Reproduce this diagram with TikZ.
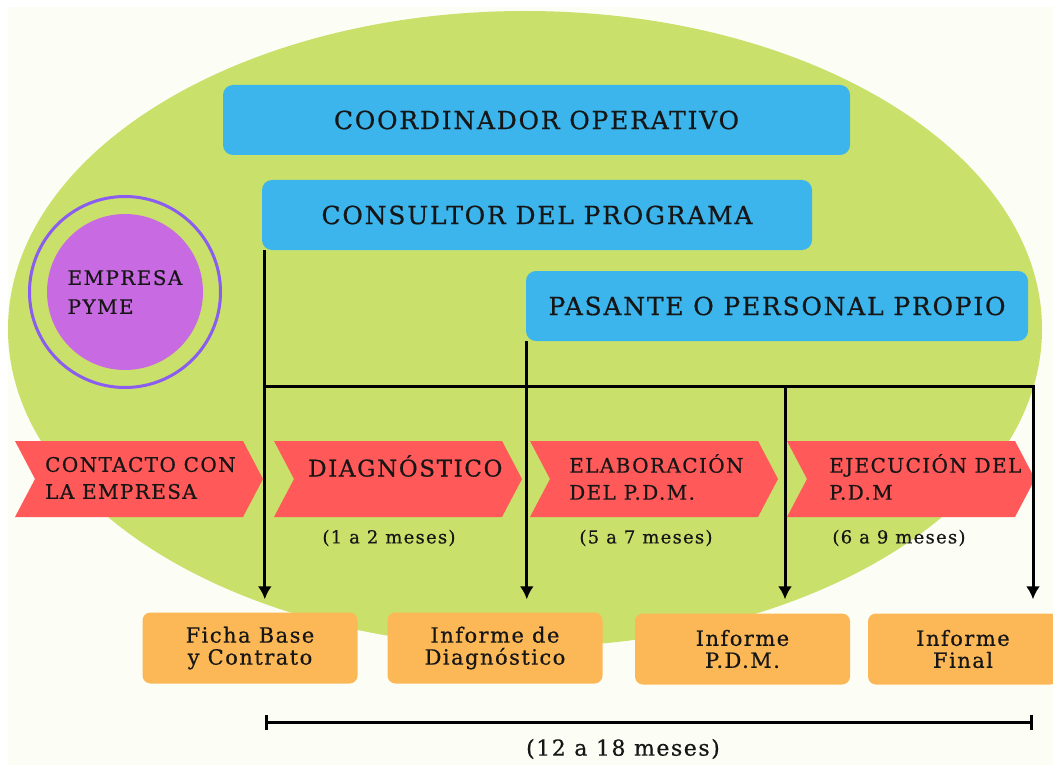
\documentclass[tikz,border=0pt]{standalone}
\usepackage{fontspec}
\setmainfont{DejaVu Serif}
\newfontfamily\slab[LetterSpace=7,FakeBold=0.6]{DejaVu Serif}
\usetikzlibrary{arrows.meta}

\definecolor{bgcream}{RGB}{252,253,244}
\definecolor{blobgreen}{RGB}{201,224,106}
\definecolor{roleblue}{RGB}{59,181,236}
\definecolor{stagered}{RGB}{255,89,89}
\definecolor{docorange}{RGB}{252,184,86}
\definecolor{pymefill}{RGB}{200,106,225}
\definecolor{pymering}{RGB}{139,92,240}
\definecolor{inkdark}{RGB}{22,22,22}

\begin{document}
\begin{tikzpicture}[x=1pt,y=-1pt,
    every node/.style={text=inkdark},
    rolebox/.style={fill=roleblue, rounded corners=10pt, minimum height=70pt, inner sep=0pt,
      font=\slab\fontsize{25}{30}\selectfont},
    stagetext/.style={anchor=west, align=left, inner sep=0pt,
      font=\slab\fontsize{20}{27}\selectfont},
    timetext/.style={inner sep=0pt, font=\slab\fontsize{18}{22}\selectfont},
    docbox/.style={fill=docorange, rounded corners=8pt, minimum width=215pt, minimum height=71pt,
      align=center, inner sep=0pt, font=\slab\fontsize{21}{22}\selectfont},
    wire/.style={line width=3pt},
    flow/.style={line width=3pt, -{Latex[length=13pt,width=14pt]}},
    span/.style={line width=3pt, {Bar[width=15pt,line width=3pt]}-{Bar[width=15pt,line width=3pt]}},
  ]
  \useasboundingbox (0,0) rectangle (1053,765);
  \fill[white] (0,0) rectangle (1053,765);
  \fill[bgcream] (8,7) rectangle (1053,765);

  % green blob
  \fill[blobgreen] (525,329) ellipse [x radius=517, y radius=318];

  % roles
  \node[rolebox, minimum width=627pt] (coord) at (536.5,120) {COORDINADOR OPERATIVO};
  \node[rolebox, minimum width=550pt] (cons) at (537,215) {CONSULTOR DEL PROGRAMA};
  \node[rolebox, minimum width=502pt] (pas) at (777,306) {PASANTE O PERSONAL PROPIO};

  % empresa
  \node[circle, draw=pymering, line width=3pt, minimum size=191pt] (ring) at (125,292) {};
  \node[circle, fill=pymefill, minimum size=156pt, align=left, inner sep=0pt,
    font=\slab\fontsize{20}{29}\selectfont] (pyme) at (ring) {EMPRESA\\PYME};

  % stages
  \foreach \x in {15,274,530,787}
    \fill[stagered] (\x,441) -- ++(228,0) -- ++(20,38) -- ++(-20,38) -- ++(-228,0) -- ++(20,-38) -- cycle;
  \node[stagetext] (contacto) at (45,478) {CONTACTO CON\\LA EMPRESA};
  \node[stagetext, font=\slab\fontsize{23}{27}\selectfont] (diagst) at (308,466) {DIAGNÓSTICO};
  \node[stagetext] (elab) at (569,477) {ELABORACIÓN\\DEL P.D.M.};
  \node[stagetext] (ejec) at (829,477) {EJECUCIÓN DEL\\P.D.M};

  \node[timetext] (t1) at (389,538) {(1 a 2 meses)};
  \node[timetext] (t2) at (646,538) {(5 a 7 meses)};
  \node[timetext] (t3) at (899,538) {(6 a 9 meses)};

  % documents
  \node[docbox] (ficha) at (250,648) {Ficha Base\\y Contrato};
  \node[docbox] (diag) at (495,648) {Informe de\\Diagnóstico};
  \node[docbox] (pdm) at (742.5,649) {Informe\\P.D.M.};
  \node[docbox, minimum width=190pt] (final) at (963,649) {Informe\\Final};

  % connectors
  \coordinate (busstart) at (265,386);
  \coordinate (busmid) at (785,386);
  \coordinate (busend) at (1033,386);
  \draw[flow] ([xshift=3pt]cons.south west) -- ([xshift=3pt,yshift=13pt]cons.south west |- ficha.north);
  \draw[flow] ([xshift=1pt]pas.south west) -- ([xshift=1pt,yshift=13pt]pas.south west |- diag.north);
  \draw[wire] (busstart) -- (busend);
  \draw[flow] (busmid) -- ([yshift=13pt]busmid |- ficha.north);
  \draw[flow] ([yshift=1.5pt]busend) -- ([yshift=13pt]busend |- ficha.north);

  % total time
  \coordinate (tstart) at (265,722);
  \coordinate (tend) at (1033,722);
  \draw[span] (tstart) -- (tend);
  \node[timetext, font=\slab\fontsize{22}{26}\selectfont] (total) at (623,749) {(12 a 18 meses)};
\end{tikzpicture}
\end{document}
